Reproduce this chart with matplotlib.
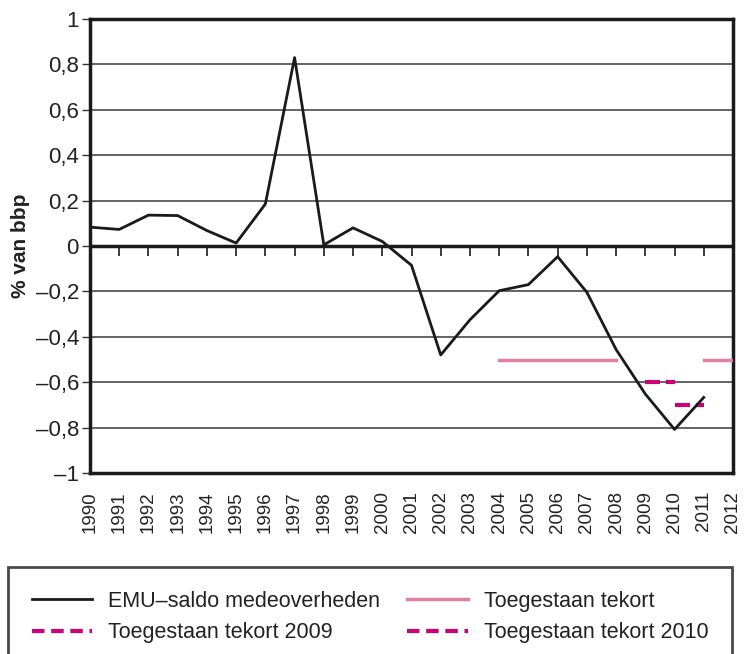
import numpy as np
import matplotlib
matplotlib.use("Agg")
import matplotlib.pyplot as plt
from matplotlib.lines import Line2D

plt.rcParams['font.family'] = ['Liberation Sans', 'DejaVu Sans']

years = list(range(1990, 2013))
emu_saldo = [0.083, 0.073, 0.136, 0.134, 0.068, 0.013, 0.185, 0.83, 0.005, 0.08,
             0.02, -0.085, -0.48, -0.325, -0.197, -0.17, -0.047, -0.204, -0.456,
             -0.652, -0.808, -0.667, np.nan]
toegestaan = [np.nan] * 14 + [-0.5, -0.5, -0.5, -0.5, -0.5, np.nan, np.nan, -0.5, -0.5]
toeg_2009 = [np.nan] * 19 + [-0.6, -0.6, np.nan, np.nan]
toeg_2010 = [np.nan] * 20 + [-0.7, -0.7, np.nan]
yticks = [1, 0.8, 0.6, 0.4, 0.2, 0, -0.2, -0.4, -0.6, -0.8, -1]
ytick_labels = ['1', '0,8', '0,6', '0,4', '0,2', '0', '–0,2', '–0,4', '–0,6', '–0,8', '–1']
labels = ['EMU–saldo medeoverheden', 'Toegestaan tekort',
          'Toegestaan tekort 2009', 'Toegestaan tekort 2010']

fig = plt.figure(figsize=(7.47, 6.54), dpi=100)
ax = fig.add_axes([90/747, 1-473/654, (733-90)/747, (473-19)/654])

ax.set_xlim(years[0], years[-1])
ax.set_ylim(-1, 1)
ax.set_yticks(yticks)
ax.set_yticklabels(ytick_labels, fontsize=16, color='#222222')
ax.set_xticks(years)
ax.set_xticklabels([str(y) for y in years], rotation=90, fontsize=13.5, color='#222222')
ax.tick_params(axis='x', length=0, pad=13)
ax.tick_params(axis='y', length=6, width=1, direction='out', pad=2, color='#333333')

for v in yticks:
    if v not in (0, 1, -1):
        ax.axhline(v, color='#4a4a4a', lw=1.2, zorder=1)
ax.axhline(0, color='#1a1a1a', lw=2.5, zorder=2)
ax.plot(years[1:-1], [0]*(len(years)-2), ls='none', marker=3, ms=7, mew=1.2,
        color='#1a1a1a', zorder=2)

for s in ax.spines.values():
    s.set_linewidth(2.5)
    s.set_color('#1a1a1a')

l1, = ax.plot(years, emu_saldo, color='#1a1a1a', lw=2, zorder=4, label=labels[0])
l2, = ax.plot(years, toegestaan, color='#E0809F', lw=2.5, zorder=3, label=labels[1])
l3, = ax.plot(years, toeg_2009, color='#CC0077', lw=3, dashes=(3.6, 1.4), zorder=3,
              label=labels[2])
l4, = ax.plot(years, toeg_2010, color='#CC0077', lw=3, dashes=(3.6, 1.4), zorder=3,
              label=labels[3])

ax.set_ylabel('% van bbp', fontsize=15, fontweight='bold', color='#222222')
ax.yaxis.set_label_coords(-0.094, 0.5)

p3 = Line2D([], [], color='#CC0077', lw=3, dashes=(3.0, 1.6))
p4 = Line2D([], [], color='#CC0077', lw=3, dashes=(3.0, 1.6))
handles = [l1, p3, l2, p4]
leg_labels = [labels[0], labels[2], labels[1], labels[3]]
leg = fig.legend(handles=handles, labels=leg_labels, ncol=2,
                 loc='upper left', bbox_to_anchor=(8/747, 1-567/654, 724/747, 0),
                 mode='expand', fontsize=15.5, frameon=True, fancybox=False,
                 handlelength=2.8, handletextpad=0.75, borderaxespad=0,
                 columnspacing=1.0, labelspacing=0.5, borderpad=1.1)
leg.get_frame().set_edgecolor('#1a1a1a')
leg.get_frame().set_linewidth(2)
for t in leg.get_texts():
    t.set_color('#222222')

fig.savefig('out.png', dpi=100)
